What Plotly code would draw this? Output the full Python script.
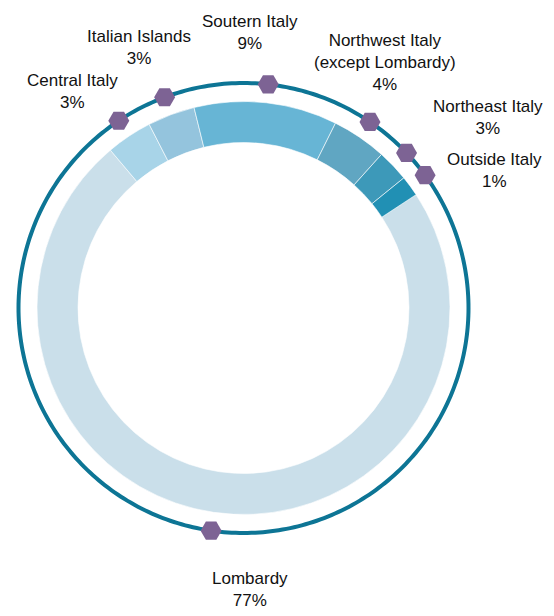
import numpy as np
import plotly.graph_objects as go

# regions, clockwise starting from Lombardy
regions = ["Lombardy", "Central Italy", "Italian Islands", "Soutern Italy",
           "Northwest Italy<br>(except Lombardy)", "Northeast Italy", "Outside Italy"]
share_arc = [73.1, 3.6, 3.7, 11.2, 4.3, 2.5, 1.6]   # size of the ring slices (%)
share_label = ["77%", "3%", "3%", "9%", "4%", "3%", "1%"]  # percentages as printed
colors = ["#cadfea", "#a8d4e8", "#94c4dd", "#67b5d5", "#60a6c2", "#3d99b9", "#2190b4"]

start_deg = 56.7  # where Lombardy begins, clockwise from 12 o'clock

# label nudges (px) so the texts don't collide
nudge_x = [47, -17, -7, -24, -15, 43, 27]
nudge_y = [-6, -15, 0, -1, 16, -1, -27]

widths = [v * 3.6 for v in share_arc]
mids = start_deg + np.cumsum(widths) - np.array(widths) / 2

# page has an 8px body margin, centre of the ring in figure px
cx, cy = 235.5, 300
W, H = 554, 616
R = 235.5

fig = go.Figure()

# ring slices
fig.add_trace(go.Barpolar(
    theta=mids, width=widths, r=[41] * len(regions), base=165.5,
    marker=dict(color=colors, line=dict(color="white", width=0.6)),
    hoverinfo="skip", showlegend=False,
))

# outer circle
fig.add_trace(go.Scatterpolar(
    theta=np.linspace(0, 360, 361), r=[225] * 361, mode="lines",
    line=dict(color="#0d7595", width=4), hoverinfo="skip", showlegend=False,
))

# hexagon markers
fig.add_trace(go.Scatterpolar(
    theta=mids, r=[225] * len(regions), mode="markers",
    marker=dict(symbol="hexagon2", size=21, color="#7d6394"),
    hoverinfo="skip", showlegend=False, cliponaxis=False,
))

# labels, placed on a pixel-scaled cartesian overlay around the same centre
rl = 278
lx = rl * np.sin(np.radians(mids))
ly = rl * np.cos(np.radians(mids))
for i, name in enumerate(regions):
    fig.add_annotation(
        x=lx[i], y=ly[i], xref="x", yref="y",
        text=f"{name}<br>{share_label[i]}", showarrow=False, align="center",
        xshift=nudge_x[i], yshift=nudge_y[i],
        font=dict(family="Liberation Sans, Arial, sans-serif",
                  size=17, color="#111111"),
    )

fig.update_layout(
    width=W, height=H,
    margin=dict(l=0, r=0, t=0, b=0),
    paper_bgcolor="white",
    plot_bgcolor="rgba(0,0,0,0)",
    xaxis=dict(range=[-cx, W - cx], visible=False, domain=[0, 1]),
    yaxis=dict(range=[-(H - cy), cy], visible=False, domain=[0, 1]),
    polar=dict(
        domain=dict(x=[(cx - R) / W, (cx + R) / W],
                    y=[(H - cy - R) / H, (H - cy + R) / H]),
        bgcolor="rgba(0,0,0,0)",
        bargap=0,
        angularaxis=dict(rotation=90, direction="clockwise", visible=False),
        radialaxis=dict(range=[0, R], visible=False),
    ),
)

fig.write_html("out.html")
